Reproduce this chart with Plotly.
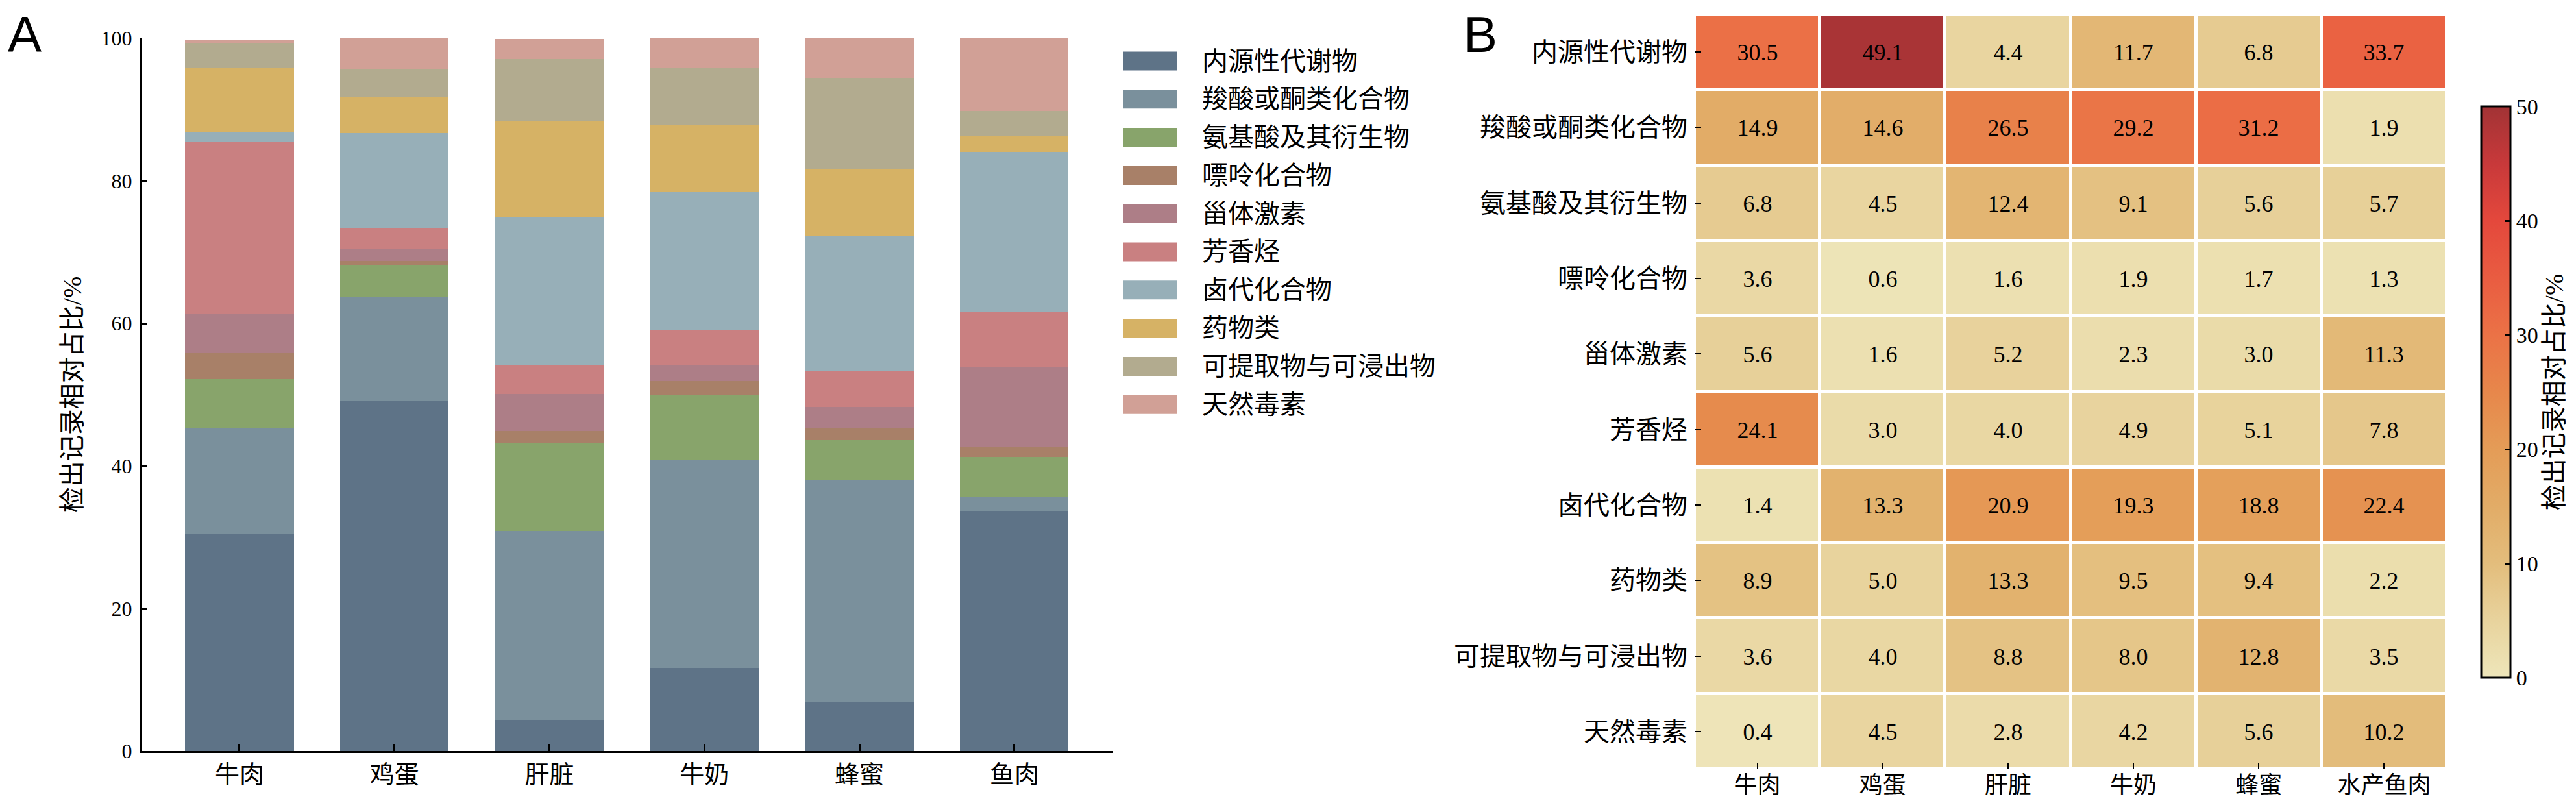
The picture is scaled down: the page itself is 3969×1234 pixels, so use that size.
import plotly.graph_objects as go

# Compound classes (stack order bottom -> top, heatmap rows top -> bottom)
compounds = ['内源性代谢物', '羧酸或酮类化合物', '氨基酸及其衍生物', '嘌呤化合物', '甾体激素',
             '芳香烃', '卤代化合物', '药物类', '可提取物与可浸出物', '天然毒素']
bar_foods = ['牛肉', '鸡蛋', '肝脏', '牛奶', '蜂蜜', '鱼肉']
heat_foods = ['牛肉', '鸡蛋', '肝脏', '牛奶', '蜂蜜', '水产鱼肉']

# Relative share of detection records (%), one list per compound class
endogenous = [30.5, 49.1, 4.4, 11.7, 6.8, 33.7]
carboxylic = [14.9, 14.6, 26.5, 29.2, 31.2, 1.9]
amino_acids = [6.8, 4.5, 12.4, 9.1, 5.6, 5.7]
purines = [3.6, 0.6, 1.6, 1.9, 1.7, 1.3]
steroids = [5.6, 1.6, 5.2, 2.3, 3.0, 11.3]
aromatics = [24.1, 3.0, 4.0, 4.9, 5.1, 7.8]
halogenated = [1.4, 13.3, 20.9, 19.3, 18.8, 22.4]
drugs = [8.9, 5.0, 13.3, 9.5, 9.4, 2.2]
extractables = [3.6, 4.0, 8.8, 8.0, 12.8, 3.5]
toxins = [0.4, 4.5, 2.8, 4.2, 5.6, 10.2]

rows = [endogenous, carboxylic, amino_acids, purines, steroids,
        aromatics, halogenated, drugs, extractables, toxins]

bar_colors = ['#5E7387', '#7A909C', '#88A46B', '#A88068', '#AD7E87',
              '#C98081', '#97AFB8', '#D6B265', '#B2AB8F', '#D1A096']

colorscale = [[0.0, '#EEE6BA'], [0.1, '#E8D39D'], [0.2, '#E3BD7C'], [0.3, '#E2AC67'],
              [0.4, '#E49C57'], [0.5, '#E7874B'], [0.6, '#EB7246'], [0.7, '#E95C41'],
              [0.8, '#E4483C'], [0.9, '#C8393A'], [1.0, '#A23335']]

W, H = 3969, 1234
num_font = 'Liberation Serif, Noto Sans CJK SC'

fig = go.Figure()

# Panel A: stacked bars
for name, vals, col in zip(compounds, rows, bar_colors):
    fig.add_trace(go.Bar(
        x=bar_foods, y=vals, name=name,
        marker=dict(color=col, line=dict(width=0)),
        xaxis='x', yaxis='y', showlegend=False
    ))

# Panel B: heatmap
fig.add_trace(go.Heatmap(
    z=rows, x=heat_foods, y=compounds,
    xaxis='x2', yaxis='y2',
    colorscale=colorscale, zmin=0, zmax=50,
    xgap=5, ygap=5,
    texttemplate='%{z:.1f}',
    textfont=dict(family=num_font, size=36, color='black'),
    colorbar=dict(
        x=3815 / W, xanchor='left', xpad=0,
        y=1 - 596 / H, yanchor='middle', ypad=0,
        len=880, lenmode='pixels',
        thickness=45, thicknessmode='pixels',
        outlinewidth=3, outlinecolor='black',
        ticks='inside', ticklen=10, tickwidth=3, tickcolor='black',
        tickvals=[0, 10, 20, 30, 40, 50],
        tickfont=dict(family=num_font, size=34, color='black'),
        title=dict(text='检出记录相对占比/%', side='right',
                   font=dict(family=num_font, size=40, color='black'))
    )
))

fig.update_layout(
    width=W, height=H,
    margin=dict(l=0, r=0, t=0, b=0),
    paper_bgcolor='white', plot_bgcolor='white',
    barmode='stack', bargap=0.3,
    showlegend=False,
    font=dict(family=num_font, color='black'),
    xaxis=dict(
        domain=[211 / W, 1707 / W], range=[-0.628, 5.637],
        showline=True, linewidth=3, linecolor='black',
        ticks='inside', ticklen=11, tickwidth=3, tickcolor='black',
        tickfont=dict(family=num_font, size=38, color='black'),
        ticklabelstandoff=0, automargin=False,
        showgrid=False, zeroline=False
    ),
    yaxis=dict(
        domain=[1 - 1149 / H, 1 - 51 / H], range=[0, 100],
        tickvals=[0, 20, 40, 60, 80, 100],
        showline=True, linewidth=3, linecolor='black',
        ticks='inside', ticklen=7, tickwidth=3, tickcolor='black',
        tickfont=dict(family=num_font, size=32, color='black'),
        ticklabelstandoff=6, automargin=False,
        title=dict(text='检出记录相对占比/%', standoff=18,
                   font=dict(family=num_font, size=40, color='black')),
        showgrid=False, zeroline=False
    ),
    xaxis2=dict(
        domain=[2603 / W, 3762 / W], anchor='y2',
        showline=False, ticks='inside', ticklen=10, tickwidth=2, tickcolor='black',
        tickfont=dict(family=num_font, size=36, color='black'),
        ticklabelstandoff=0, automargin=False,
        showgrid=False, zeroline=False
    ),
    yaxis2=dict(
        domain=[1 - 1177 / H, 1 - 14 / H], anchor='x2', autorange='reversed',
        showline=False, ticks='inside', ticklen=10, tickwidth=2, tickcolor='black',
        tickfont=dict(family=num_font, size=40, color='black'),
        ticklabelstandoff=10, automargin=False,
        showgrid=False, zeroline=False
    )
)

# Legend drawn by hand so the swatches are wide rectangles like the original
shapes = []
annotations = []
for i, (name, col) in enumerate(zip(compounds, bar_colors)):
    yc = 86 + i * 58.8
    shapes.append(dict(type='rect', xref='paper', yref='paper',
                       x0=1723 / W, x1=1806 / W,
                       y0=1 - (yc + 14.5) / H, y1=1 - (yc - 14.5) / H,
                       fillcolor=col, line=dict(width=0)))
    annotations.append(dict(text=name, xref='paper', yref='paper',
                            x=1842 / W, y=1 - yc / H, xanchor='left', yanchor='middle',
                            showarrow=False,
                            font=dict(family=num_font, size=40, color='black')))

# Panel letters
for letter, px in [('A', 3), ('B', 2246)]:
    annotations.append(dict(text=letter, xref='paper', yref='paper',
                            x=px / W, y=1, xanchor='left', yanchor='top',
                            showarrow=False, borderpad=0,
                            font=dict(family='Liberation Sans', size=78, color='black')))

fig.update_layout(shapes=shapes, annotations=annotations)

fig.write_html("out.html")
